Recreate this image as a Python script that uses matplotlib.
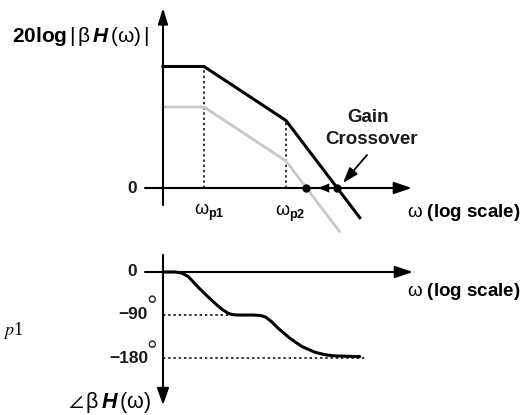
import matplotlib
matplotlib.use('Agg')
import matplotlib.pyplot as plt

plt.rcParams['font.family'] = ['Liberation Sans', 'DejaVu Sans']
plt.rcParams['mathtext.fontset'] = 'custom'
plt.rcParams['mathtext.rm'] = 'Liberation Sans'
plt.rcParams['mathtext.bf'] = 'Liberation Sans:bold'
plt.rcParams['mathtext.it'] = 'Liberation Sans:italic'
plt.rcParams['mathtext.bfit'] = 'Liberation Sans:bold:italic'

# log frequency in decades, measured from the vertical axis
logw_p1, logw_p2 = 1.0, 3.0

# loop gain magnitude (dB): black = before compensation, gray = after
logw_mag = [0.0, 1.0, 3.0, 4.8]
mag_db = [90, 90, 50, -22]
logw_mag2 = [0.0, 1.0, 3.0, 4.3]
mag2_db = [60, 60, 20, -32]
logw_cross = [3.5, 4.25]   # gray / black gain crossover

# loop gain phase (deg)
logw_ph = [0.0, 0.3, 0.45, 0.61, 0.85, 1.0, 1.15, 1.3, 1.44, 1.58, 1.68, 1.8, 1.93, 2.2, 2.37,
           2.5, 2.65, 2.8, 3.1, 3.39, 3.71, 3.9, 4.02, 4.2, 4.37, 4.8]
phase = [0, 0, -2, -9, -31, -44, -56, -68, -78, -86, -89, -90, -90, -90, -91,
         -94, -104, -117, -139, -156, -168, -172, -174, -175.5, -176, -177]
ph_ref = [-90, -180]
ph_ref_end = [1.76, 4.98]

W, H = 531, 415
X0, PX_DEC = 163, 41.0
Y0_MAG, PX_DB = 188, 1.35
Y0_PH, PX_DEG = 272, 0.478

fig = plt.figure(figsize=(W / 100, H / 100), dpi=100)

ax_m = fig.add_axes([0, 0, 1, 1])
ax_m.set_xlim(-X0 / PX_DEC, (W - X0) / PX_DEC)
ax_m.set_ylim((Y0_MAG - H) / PX_DB, Y0_MAG / PX_DB)
ax_m.set_axis_off()

ax_p = fig.add_axes([0, 0, 1, 1])
ax_p.set_xlim(-X0 / PX_DEC, (W - X0) / PX_DEC)
ax_p.set_ylim((Y0_PH - H) / PX_DEG, Y0_PH / PX_DEG)
ax_p.set_axis_off()
ax_p.patch.set_visible(False)


def arrow(ax, start, tip, hl, hw, lw=1.5):
    # hl, hw in pixels
    s = '-|>,head_length=%.2f,head_width=%.2f' % (hl / 1.389 / 10, hw / 2 / 1.389 / 10)
    ax.annotate('', xy=tip, xytext=start,
                arrowprops=dict(arrowstyle=s, mutation_scale=10, lw=lw, color='black',
                                shrinkA=0, shrinkB=0))


def px(x, y):
    return x / W, 1 - y / H


dots = dict(color='#222222', lw=1.3, dashes=(1.3, 1.6))

# ---- magnitude plot
arrow(ax_m, (-18 / PX_DEC, 0), ((412 - X0) / PX_DEC, 0), 15, 10)
arrow(ax_m, (0, -17 / PX_DB), (0, (Y0_MAG - 8) / PX_DB), 13, 8)

for lw_ in (logw_p1, logw_p2):
    i = logw_mag.index(lw_)
    ax_m.plot([lw_, lw_], [0, mag_db[i]], **dots)

ax_m.plot(logw_mag2, mag2_db, color='#c8c8c8', lw=2.0, solid_joinstyle='round')
ax_m.plot(logw_mag, mag_db, color='black', lw=2.2, solid_joinstyle='round')
ax_m.plot(logw_cross, [0, 0], 'o', color='black', ms=5)
arrow(ax_m, (logw_cross[1], 0), (logw_cross[0] + 0.28, 0), 11, 9, lw=0.1)
arrow(ax_m, ((367 - X0) / PX_DEC, (Y0_MAG - 155) / PX_DB),
      ((343 - X0) / PX_DEC, (Y0_MAG - 183) / PX_DB), 13, 9, lw=1.3)

bold = dict(fontweight='bold', color='#1a1a1a')
fig.text(*px(137, 188), '0', ha='right', va='center', fontsize=12.5, **bold)
fig.text(*px(209, 212), r'$\mathrm{\omega}_{\mathbf{p1}}$', ha='center', va='center', fontsize=13)
fig.text(*px(290, 213), r'$\mathrm{\omega}_{\mathbf{p2}}$', ha='center', va='center', fontsize=13)
fig.text(*px(407, 212), r'$\mathrm{\omega}$ $\mathbf{(log\ scale)}$', ha='left', va='center', fontsize=13.5)
fig.text(*px(368, 118), 'Gain', ha='center', va='center', fontsize=13.5, **bold)
fig.text(*px(371, 139), 'Crossover', ha='center', va='center', fontsize=13.5, **bold)
fig.text(*px(12, 36), r'$\mathbf{20log}\,|\,\mathrm{\beta}\,\mathbfit{H}\,\mathrm{(\omega)}\,|$',
         ha='left', va='center', fontsize=15)

# ---- phase plot
arrow(ax_p, (-18 / PX_DEC, 0), ((413 - X0) / PX_DEC, 0), 15, 10)
arrow(ax_p, (0, (Y0_PH - 255) / PX_DEG), (0, (Y0_PH - 405) / PX_DEG), 14, 10)

for v, e in zip(ph_ref, ph_ref_end):
    ax_p.plot([0, e], [v, v], **dots)
ax_p.plot(logw_ph, phase, color='black', lw=2.2, solid_joinstyle='round',
          solid_capstyle='round')

fig.text(*px(137, 271), '0', ha='right', va='center', fontsize=12.5, **bold)
fig.text(*px(148, 314), '\u221290', ha='right', va='center', fontsize=12.5, **bold)
fig.text(*px(148, 358), '\u2212180', ha='right', va='center', fontsize=12.5, **bold)
fig.text(*px(152, 307), '\u00b0', ha='center', va='center', fontsize=19, color='#333333')
fig.text(*px(152, 352), '\u00b0', ha='center', va='center', fontsize=19, color='#333333')
fig.text(*px(407, 292), r'$\mathrm{\omega}$ $\mathbf{(log\ scale)}$', ha='left', va='center', fontsize=13.5)
fig.text(*px(68, 402), r'$\angle\,\mathrm{\beta}\,\mathbfit{H}\,\mathrm{(\omega)}$', ha='left', va='center', fontsize=15.5)
fig.text(*px(3, 330), '$p$1', ha='left', va='center', fontsize=13,
         family='Liberation Serif', math_fontfamily='stix')

fig.savefig('out.png', dpi=100)
